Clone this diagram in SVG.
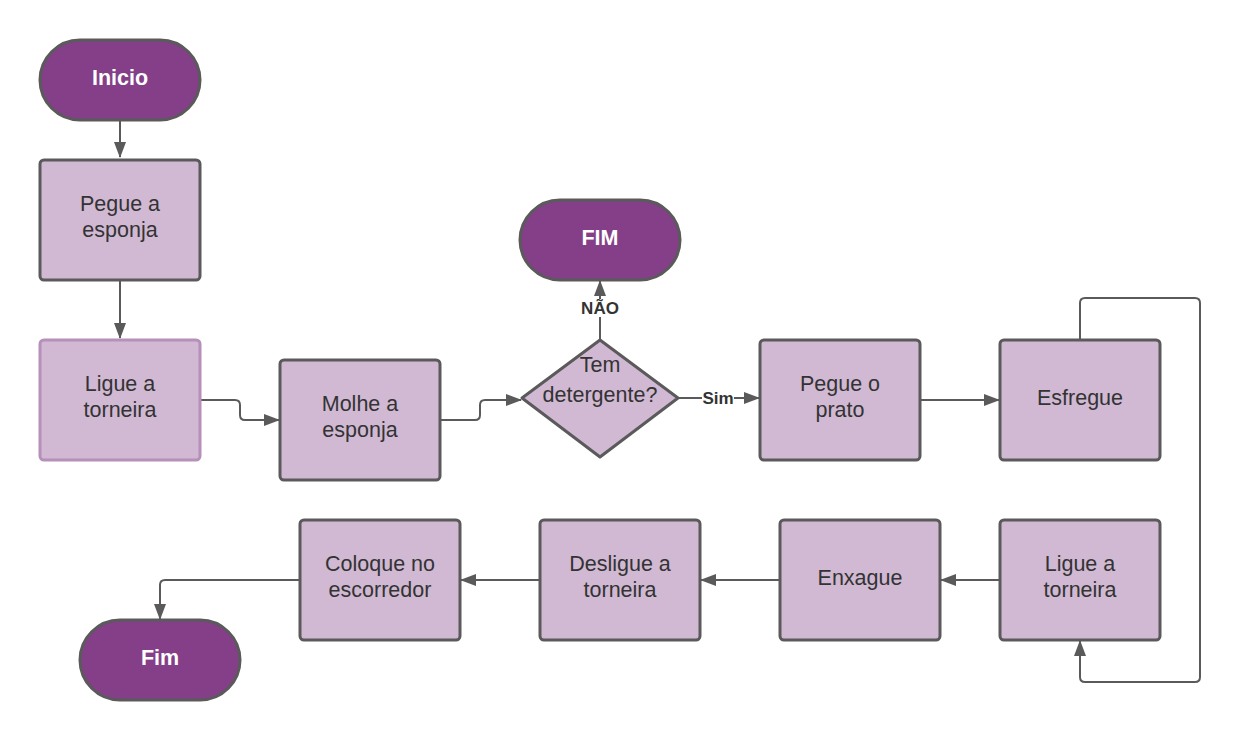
<svg xmlns="http://www.w3.org/2000/svg" width="1240" height="740" viewBox="0 0 1240 740">
<defs>
<marker id="arr" markerWidth="16" markerHeight="14" refX="15" refY="7" orient="auto" markerUnits="userSpaceOnUse">
<path d="M0,1 L16,7 L0,13 Z" fill="#5a5a5a"/>
</marker>
<style>
.term{fill:#843f88;stroke:#5a5a5a;stroke-width:3}
.proc{fill:#d1b9d3;stroke:#5a5a5a;stroke-width:3}
.tt{font-family:"Liberation Sans",Arial,sans-serif;font-size:21.5px;font-weight:bold;fill:#ffffff;text-anchor:middle}
.pt{font-family:"Liberation Sans",Arial,sans-serif;font-size:21.5px;fill:#333333;text-anchor:middle}
.lbl{font-family:"Liberation Sans",Arial,sans-serif;font-size:17px;font-weight:bold;fill:#333333;text-anchor:middle}
.c{fill:none;stroke:#5a5a5a;stroke-width:2}
</style>
</defs>
<rect width="1240" height="740" fill="#ffffff"/>
<g id="connectors">
<path class="c" d="M120 121 V157" marker-end="url(#arr)"/>
<path class="c" d="M120 281 V338" marker-end="url(#arr)"/>
<path class="c" d="M201 400 H235 Q240 400 240 405 V415 Q240 420 245 420 H279" marker-end="url(#arr)"/>
<path class="c" d="M441 420 H475 Q480 420 480 415 V405 Q480 400 485 400 H521" marker-end="url(#arr)"/>
<path class="c" d="M679 398 H759" marker-end="url(#arr)"/>
<path class="c" d="M600 340 V281" marker-end="url(#arr)"/>
<path class="c" d="M921 400 H999" marker-end="url(#arr)"/>
<path class="c" d="M1080 339 V303 Q1080 298 1085 298 H1195 Q1200 298 1200 303 V677 Q1200 682 1195 682 H1085 Q1080 682 1080 677 V641" marker-end="url(#arr)"/>
<path class="c" d="M999 580 H941" marker-end="url(#arr)"/>
<path class="c" d="M779 580 H701" marker-end="url(#arr)"/>
<path class="c" d="M539 580 H461" marker-end="url(#arr)"/>
<path class="c" d="M299 580 H165 Q160 580 160 585 V619" marker-end="url(#arr)"/>
<rect x="702" y="389" width="32" height="18" fill="#ffffff"/>
<text class="lbl" x="718" y="404">Sim</text>
<rect x="580" y="299" width="40" height="18" fill="#ffffff"/>
<text class="lbl" x="600" y="314">NÃO</text>
</g>
<g id="inicio">
<rect class="term" x="40" y="40" width="160" height="80" rx="40"/>
<text class="tt" x="120" y="85">Inicio</text>
</g>
<g id="pegue-esponja">
<rect class="proc" x="40" y="160" width="160" height="120" rx="4"/>
<text class="pt" x="120" y="211">Pegue a</text>
<text class="pt" x="120" y="237">esponja</text>
</g>
<g id="ligue-torneira-1">
<rect class="proc" x="40" y="340" width="160" height="120" rx="4" style="stroke:#b68fba"/>
<text class="pt" x="120" y="391">Ligue a</text>
<text class="pt" x="120" y="417">torneira</text>
</g>
<g id="molhe-esponja">
<rect class="proc" x="280" y="360" width="160" height="120" rx="4"/>
<text class="pt" x="360" y="411">Molhe a</text>
<text class="pt" x="360" y="437">esponja</text>
</g>
<g id="tem-detergente">
<path class="proc" d="M600 340 L678 398 L600 457 L522 398 Z" stroke-linejoin="round"/>
<text class="pt" x="600" y="372">Tem</text>
<text class="pt" x="600" y="402">detergente?</text>
</g>
<g id="fim-top">
<rect class="term" x="520" y="200" width="160" height="80" rx="40"/>
<text class="tt" x="600" y="245">FIM</text>
</g>
<g id="pegue-prato">
<rect class="proc" x="760" y="340" width="160" height="120" rx="4"/>
<text class="pt" x="840" y="391">Pegue o</text>
<text class="pt" x="840" y="417">prato</text>
</g>
<g id="esfregue">
<rect class="proc" x="1000" y="340" width="160" height="120" rx="4"/>
<text class="pt" x="1080" y="405">Esfregue</text>
</g>
<g id="ligue-torneira-2">
<rect class="proc" x="1000" y="520" width="160" height="120" rx="4"/>
<text class="pt" x="1080" y="571">Ligue a</text>
<text class="pt" x="1080" y="597">torneira</text>
</g>
<g id="enxague">
<rect class="proc" x="780" y="520" width="160" height="120" rx="4"/>
<text class="pt" x="860" y="585">Enxague</text>
</g>
<g id="desligue-torneira">
<rect class="proc" x="540" y="520" width="160" height="120" rx="4"/>
<text class="pt" x="620" y="571">Desligue a</text>
<text class="pt" x="620" y="597">torneira</text>
</g>
<g id="coloque-escorredor">
<rect class="proc" x="300" y="520" width="160" height="120" rx="4"/>
<text class="pt" x="380" y="571">Coloque no</text>
<text class="pt" x="380" y="597">escorredor</text>
</g>
<g id="fim">
<rect class="term" x="80" y="620" width="160" height="80" rx="40"/>
<text class="tt" x="160" y="665">Fim</text>
</g>
</svg>
